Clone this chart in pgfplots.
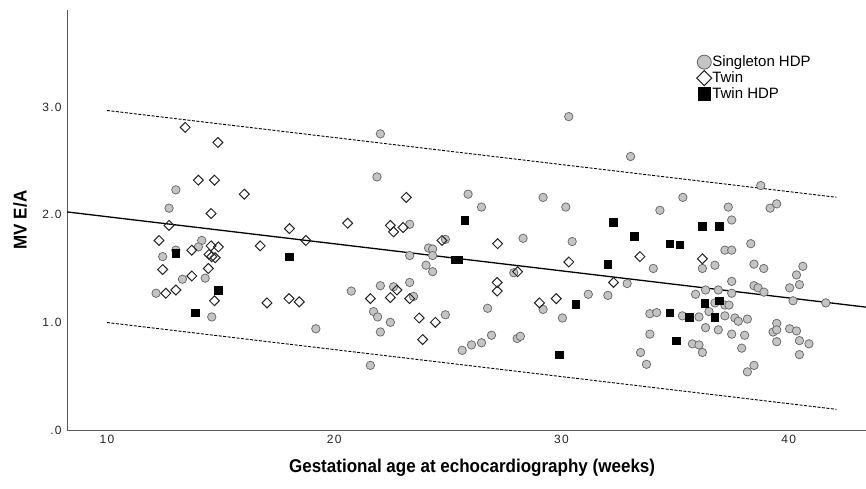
\documentclass[border=0pt]{standalone}
\usepackage{fontspec}
\setmainfont{Liberation Sans}
\newfontfamily\labelfont[FakeStretch=0.92]{Liberation Sans}
\newfontfamily\tickfont[LetterSpace=10]{Liberation Sans}
\usepackage{pgfplots}
\pgfplotsset{compat=1.18}

\definecolor{sgfill}{HTML}{C4C4C4}
\definecolor{sgline}{HTML}{6E6E6E}
\definecolor{axisgray}{HTML}{5A5A5A}

\begin{document}
\begin{tikzpicture}
\begin{axis}[
  at={(67bp,59bp)}, anchor=south west,
  scale only axis, width=799bp, height=420bp,
  xmin=8.24, xmax=43.4, ymin=0, ymax=3.9,
  axis lines=left,
  axis line style={axisgray, line width=1bp, -},
  xtick={10,20,30,40}, xticklabels={10,20,30,40},
  ytick={0,1,2,3}, yticklabels={.0,1.0,2.0,3.0},
  major tick length=0pt,
  tick label style={font=\tickfont\fontsize{12bp}{13bp}\selectfont, text=black!85},
  xticklabel style={yshift=-2bp},
  yticklabel style={xshift=-2bp},
  xlabel={Gestational age at echocardiography (weeks)},
  ylabel={MV E/A},
  label style={font=\labelfont\bfseries\fontsize{18.5bp}{21bp}\selectfont},
  xlabel style={at={(axis description cs:0.507,-0.0905)}, anchor=center},
  ylabel style={at={(axis description cs:-0.0588,0.5)}, anchor=center},
  legend style={at={(axis description cs:0.788,0.893)}, anchor=north west,
    draw=none, fill=none, font=\fontsize{15bp}{16bp}\selectfont,
    row sep=1.5bp, inner sep=0pt, nodes={inner sep=0.5bp}, cells={anchor=west}},
  legend image code/.code={\draw[#1] plot coordinates {(0bp,0bp)};},
]

% Singleton HDP
\addplot[only marks, mark=*, mark size=4.2bp,
  mark options={fill=sgfill, draw=sgline, line width=0.8bp}, forget plot] coordinates {
(13.03,2.23) (12.73,2.06) (14.17,1.76) (14.02,1.70) (12.45,1.61) (13.03,1.67) (13.32,1.40) (14.32,1.41) (12.16,1.27) (14.61,1.05)
(20.75,1.29) (19.19,0.94) (22.03,2.75) (21.88,2.35) (23.32,1.91) (24.89,1.77) (24.15,1.69) (24.33,1.68) (23.32,1.62) (24.33,1.62)
(24.04,1.53) (24.33,1.47) (22.03,1.34) (22.61,1.33) (23.32,1.37) (23.49,1.24) (21.73,1.10) (21.91,1.05) (22.47,1.00) (24.89,1.07)
(22.03,0.91) (25.63,0.74) (26.04,0.79) (26.48,0.81) (21.59,0.60) (25.89,2.19) (26.48,2.07) (26.75,1.13) (26.92,0.88) (30.32,2.91)
(29.19,2.16) (30.19,2.07) (28.31,1.78) (30.47,1.75) (27.90,1.46) (31.18,1.26) (32.04,1.25) (29.19,1.12) (30.04,1.04) (28.05,0.85)
(28.19,0.87) (33.04,2.54) (35.34,2.16) (34.33,2.04) (37.34,2.07) (37.49,1.95) (37.19,1.67) (37.49,1.67) (36.75,1.53) (36.20,1.50)
(34.04,1.50) (32.89,1.36) (37.49,1.38) (35.90,1.26) (36.34,1.30) (36.90,1.30) (37.49,1.27) (36.75,1.18) (37.19,1.16) (37.37,1.16)
(33.89,1.08) (34.19,1.09) (35.32,1.06) (36.05,1.05) (36.49,1.10) (37.19,1.06) (37.63,1.04) (37.78,1.01) (36.34,0.95) (36.90,0.93)
(37.49,0.89) (33.89,0.89) (35.76,0.80) (36.05,0.79) (36.20,0.72) (37.93,0.76) (33.48,0.72) (33.74,0.61) (38.77,2.27) (39.18,2.06)
(39.47,2.10) (38.33,1.73) (38.47,1.54) (38.90,1.50) (40.62,1.52) (40.34,1.44) (40.47,1.35) (40.04,1.32) (38.47,1.34) (38.65,1.32)
(38.91,1.28) (40.19,1.20) (41.63,1.18) (38.18,1.03) (38.06,0.88) (39.47,0.99) (39.31,0.91) (39.47,0.93) (40.04,0.94) (40.34,0.92)
(40.47,0.83) (40.89,0.80) (39.47,0.82) (40.47,0.70) (38.47,0.60) (38.18,0.54)
};

% Twin
\addplot[only marks, mark=square, mark size=3.5bp,
  mark options={rotate=45, fill=white, draw=black!85, line width=1bp}, forget plot] coordinates {
(13.44,2.81) (14.88,2.67) (14.02,2.32) (14.73,2.32) (14.58,2.01) (12.73,1.90) (12.29,1.76) (13.73,1.67) (14.58,1.71) (14.90,1.70)
(14.49,1.63) (14.61,1.61) (14.76,1.60) (12.45,1.49) (14.46,1.50) (13.73,1.43) (12.59,1.27) (13.03,1.30) (14.73,1.20) (16.04,2.19)
(18.03,1.87) (18.75,1.76) (16.74,1.71) (20.59,1.92) (17.04,1.18) (18.01,1.22) (18.46,1.19) (23.17,2.16) (22.47,1.90) (22.61,1.84)
(23.03,1.88) (24.74,1.76) (21.59,1.22) (22.47,1.23) (22.76,1.30) (23.32,1.22) (23.74,1.04) (24.45,1.00) (23.89,0.84) (27.19,1.73)
(28.07,1.47) (30.32,1.56) (27.17,1.37) (27.17,1.29) (29.03,1.18) (29.77,1.22) (32.29,1.37) (33.45,1.61) (36.20,1.59)
};

% Twin HDP
\addplot[only marks, mark=square*, mark size=3.8bp,
  mark options={fill=black, draw=black, line width=0.4bp}, forget plot] coordinates {
(13.03,1.64) (14.90,1.30) (13.88,1.09) (18.03,1.61) (25.74,1.95) (25.30,1.58) (25.48,1.58) (32.28,1.93) (32.04,1.54) (30.62,1.17)
(29.90,0.70) (33.19,1.80) (34.76,1.73) (35.20,1.72) (36.20,1.89) (36.93,1.89) (36.31,1.18) (36.93,1.20) (34.76,1.09) (35.61,1.05)
(36.75,1.05) (35.05,0.83)
};

% fit line and bounds
\addplot[black, line width=1.3bp, forget plot] coordinates {(8.24,2.025) (43.4,1.141)};
\addplot[black, line width=0.9bp, dash pattern=on 3bp off 1.5bp, forget plot] coordinates {(10,2.967) (42.10,2.161)};
\addplot[black, line width=0.9bp, dash pattern=on 3bp off 1.5bp, forget plot] coordinates {(10,0.998) (42.10,0.192)};

\addlegendimage{only marks, mark=*, mark size=7bp, mark options={fill=sgfill, draw=sgline, line width=0.9bp}}
\addlegendentry{Singleton HDP}
\addlegendimage{only marks, mark=square, mark size=5.3bp, mark options={rotate=45, fill=white, draw=black!85, line width=1bp}}
\addlegendentry{Twin}
\addlegendimage{only marks, mark=square*, mark size=6.3bp, mark options={fill=black, draw=black}}
\addlegendentry{Twin HDP}
\end{axis}
\pgfresetboundingbox
\useasboundingbox (0,0) rectangle (866bp,489bp);
\end{tikzpicture}
\end{document}
